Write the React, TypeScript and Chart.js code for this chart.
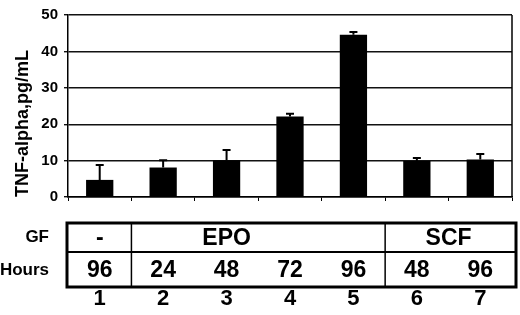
import React, { useEffect, useRef } from 'react';
import { Chart, registerables } from 'chart.js';

Chart.register(...registerables);

const lanes = ['1', '2', '3', '4', '5', '6', '7'];
const tnfValues = [4.7, 8.1, 10.1, 22.1, 44.6, 9.9, 10.3];
const tnfErrors = [4.1, 2.0, 2.8, 0.8, 0.7, 0.8, 1.5];
const hours = ['96', '24', '48', '72', '96', '48', '96'];
const gfLabels = ['-', 'EPO', 'SCF'];
const gfStart = [0, 1, 5];
const gfAnchor = [0, 2, 5.5];
const yTicks = [0, 10, 20, 30, 40, 50];

const FONT = '"Liberation Sans", Arial, sans-serif';

const errorBarPlugin = {
  id: 'errorBars',
  afterDatasetsDraw(chart: any) {
    const { ctx, scales } = chart;
    const meta = chart.getDatasetMeta(0);
    ctx.save();
    ctx.strokeStyle = '#000';
    ctx.lineWidth = 2;
    meta.data.forEach((el: any, i: number) => {
      const yTop = scales.y.getPixelForValue(tnfValues[i] + tnfErrors[i]);
      ctx.beginPath();
      ctx.moveTo(el.x, el.y);
      ctx.lineTo(el.x, yTop);
      ctx.moveTo(el.x - 4, yTop);
      ctx.lineTo(el.x + 4, yTop);
      ctx.stroke();
    });
    ctx.restore();
  },
};

const framePlugin = {
  id: 'frame',
  afterDatasetsDraw(chart: any) {
    const { ctx, chartArea } = chart;
    ctx.save();
    ctx.strokeStyle = '#000';
    ctx.lineWidth = 1.5;
    ctx.beginPath();
    ctx.moveTo(chartArea.right, chartArea.top);
    ctx.lineTo(chartArea.right, chartArea.bottom);
    ctx.stroke();
    ctx.restore();
  },
};

const tablePlugin = {
  id: 'table',
  afterDraw(chart: any) {
    const { ctx, chartArea, scales } = chart;
    const x = scales.x;
    const top = chartArea.bottom + 26;
    const mid = chartArea.bottom + 55;
    const bot = chartArea.bottom + 90;
    const left = chartArea.left - 1;
    const right = chartArea.right + 4;
    const line = (x1: number, y1: number, x2: number, y2: number) => {
      ctx.beginPath();
      ctx.moveTo(x1, y1);
      ctx.lineTo(x2, y2);
      ctx.stroke();
    };
    ctx.save();
    ctx.strokeStyle = '#000';
    ctx.fillStyle = '#000';
    ctx.lineWidth = 2;
    line(left, mid, right, mid);
    ctx.lineWidth = 1.5;
    gfStart.slice(1).forEach((s) => {
      const xp = x.getPixelForValue(s - 0.5);
      line(xp, top, xp, bot);
    });
    ctx.lineWidth = 3;
    ctx.strokeRect(left, top, right - left, bot - top);

    ctx.textBaseline = 'middle';
    ctx.textAlign = 'right';
    ctx.font = `bold 17px ${FONT}`;
    ctx.fillText('GF', chartArea.left - 19, (top + mid) / 2);
    ctx.fillText('Hours', chartArea.left - 19, (mid + bot) / 2 + 1);

    ctx.textAlign = 'center';
    ctx.font = `bold 23px ${FONT}`;
    gfLabels.forEach((lab, i) => {
      ctx.fillText(lab, x.getPixelForValue(gfAnchor[i]), (top + mid) / 2 + 1);
    });
    hours.forEach((h, i) => {
      ctx.fillText(h, x.getPixelForValue(i), (mid + bot) / 2 + 1);
    });
    ctx.font = `bold 22px ${FONT}`;
    lanes.forEach((l, i) => {
      ctx.fillText(l, x.getPixelForValue(i), bot + 12);
    });
    ctx.restore();
  },
};

export default function App() {
  const canvasRef = useRef<HTMLCanvasElement | null>(null);

  useEffect(() => {
    document.body.style.margin = '0';
    const canvas = canvasRef.current;
    if (!canvas) return;
    const chart = new Chart(canvas, {
      type: 'bar',
      data: {
        labels: lanes,
        datasets: [
          {
            data: tnfValues,
            backgroundColor: '#000',
            borderWidth: 0,
            categoryPercentage: 1,
            barPercentage: 0.43,
          },
        ],
      },
      options: {
        responsive: false,
        animation: false,
        devicePixelRatio: 1,
        layout: { padding: { left: 0, right: 8, top: 11, bottom: 114 } },
        plugins: {
          legend: { display: false },
          tooltip: { enabled: false },
        },
        scales: {
          x: {
            offset: true,
            border: { display: true, color: '#000', width: 1.5 },
            grid: {
              offset: true,
              drawOnChartArea: false,
              drawTicks: true,
              tickLength: 4,
              color: '#000',
              lineWidth: 1,
            },
            ticks: { display: false },
          },
          y: {
            min: 0,
            max: 50,
            afterBuildTicks: (scale: any) => {
              scale.ticks = yTicks.map((v) => ({ value: v }));
            },
            afterFit: (scale: any) => {
              scale.width = 68;
            },
            border: { display: true, color: '#000', width: 1.5 },
            grid: {
              color: '#111',
              lineWidth: 1.4,
              drawTicks: true,
              tickLength: 4,
            },
            ticks: {
              color: '#000',
              padding: 6,
              font: { family: FONT, size: 15, weight: 'bold' },
            },
            title: {
              display: true,
              text: 'TNF-alpha,pg/mL',
              align: 'start',
              color: '#000',
              padding: { top: 12, bottom: 0 },
              font: { family: FONT, size: 18, weight: 'bold' },
            },
          },
        },
      },
      plugins: [errorBarPlugin, framePlugin, tablePlugin],
    } as any);
    return () => chart.destroy();
  }, []);

  return (
    <div style={{ width: 520, height: 315, background: '#fff' }}>
      <canvas ref={canvasRef} width={520} height={315} />
    </div>
  );
}
